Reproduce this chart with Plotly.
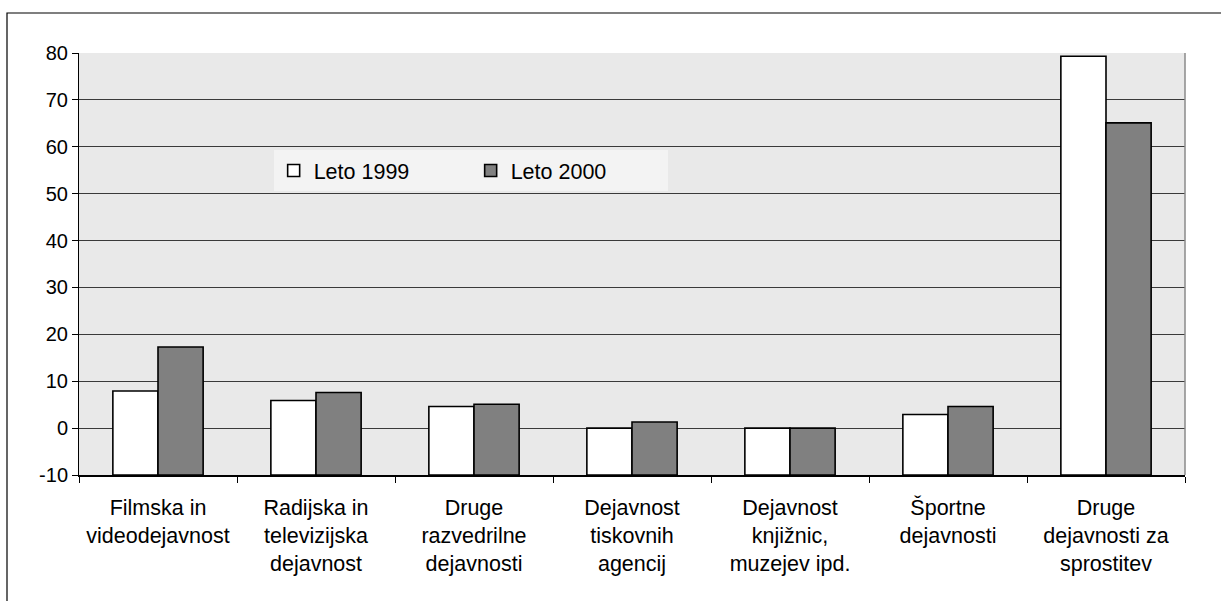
import plotly.graph_objects as go

categories = [
    "Filmska in<br>videodejavnost",
    "Radijska in<br>televizijska<br>dejavnost",
    "Druge<br>razvedrilne<br>dejavnosti",
    "Dejavnost<br>tiskovnih<br>agencij",
    "Dejavnost<br>knjižnic,<br>muzejev ipd.",
    "Športne<br>dejavnosti",
    "Druge<br>dejavnosti za<br>sprostitev",
]
leto_1999 = [7.9, 5.9, 4.6, 0.0, 0.0, 2.9, 79.3]
leto_2000 = [17.3, 7.6, 5.1, 1.3, 0.0, 4.6, 65.1]
y_ticks = [-10, 0, 10, 20, 30, 40, 50, 60, 70, 80]
y_tick_labels = ["-10", "0", "10", "20", "30", "40", "50", "60", "70", "80"]
axis_min = -10

FONT = "Arial, Liberation Sans, sans-serif"

fig = go.Figure()
fig.add_trace(go.Bar(
    name="Leto 1999", x=categories, y=[v - axis_min for v in leto_1999], base=axis_min,
    marker=dict(color="#ffffff", line=dict(color="#000000", width=1.6)),
))
fig.add_trace(go.Bar(
    name="Leto 2000", x=categories, y=[v - axis_min for v in leto_2000], base=axis_min,
    marker=dict(color="#808080", line=dict(color="#000000", width=1.6)),
))

fig.update_layout(
    width=1221, height=601,
    margin=dict(l=79, r=36, t=53, b=126),
    paper_bgcolor="#ffffff",
    plot_bgcolor="#e9e9e9",
    barmode="group",
    bargap=0.4286,
    bargroupgap=0,
    font=dict(family=FONT, color="#000000"),
    showlegend=True,
    legend=dict(
        orientation="h",
        x=0.176, y=0.77, xanchor="left", yanchor="top",
        bgcolor="#f3f3f3",
        borderwidth=0,
        font=dict(size=21.5, family=FONT, color="#000000"),
        entrywidth=152, entrywidthmode="pixels",
        traceorder="normal",
    ),
    xaxis=dict(
        showgrid=False,
        showline=True, linecolor="#000000", linewidth=2,
        ticks="outside", ticklen=6, tickcolor="#000000",
        tickson="boundaries",
        ticklabelstandoff=12,
        tickfont=dict(size=21.5, family=FONT, color="#000000"),
        zeroline=False,
    ),
    yaxis=dict(
        range=[axis_min, 80],
        tickvals=y_ticks, ticktext=y_tick_labels,
        showgrid=True, gridcolor="#3a3a3a", gridwidth=1,
        showline=True, linecolor="#000000", linewidth=1,
        ticks="outside", ticklen=6, tickcolor="#000000",
        tickfont=dict(size=20, family=FONT, color="#000000"),
        zeroline=False,
    ),
    shapes=[
        dict(type="line", xref="paper", yref="paper", x0=1, x1=1, y0=0, y1=1,
             line=dict(color="#8a8a8a", width=1.5)),
        dict(type="rect", xref="paper", yref="paper",
             x0=-0.0651, x1=1.2, y0=-0.5, y1=1.0948,
             line=dict(color="#000000", width=1.2), fillcolor="rgba(0,0,0,0)"),
    ],
)

fig.write_html(
    "out.html",
    config={"displayModeBar": False},
    post_script="document.body.style.margin='0';document.body.style.overflow='hidden';",
)
